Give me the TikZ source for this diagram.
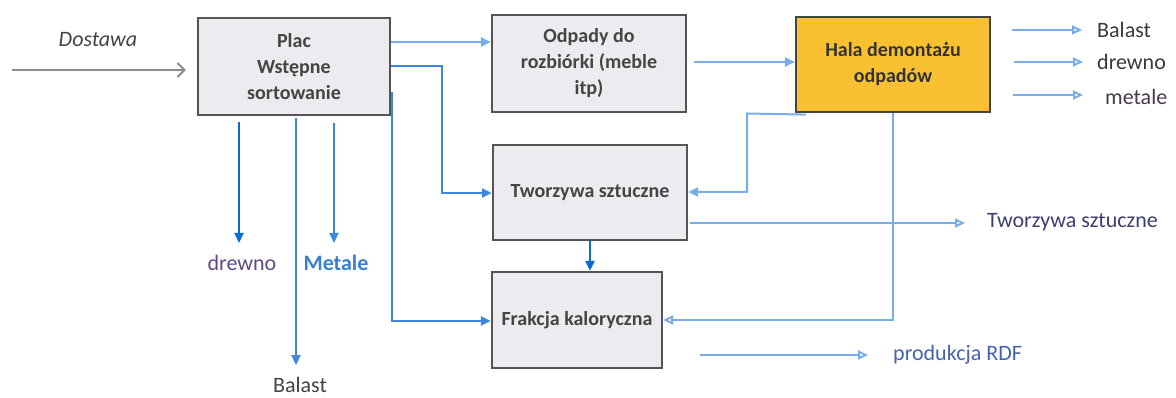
\documentclass[tikz,border=0pt]{standalone}
\usepackage{fontspec}
\setmainfont{Carlito}
\usetikzlibrary{arrows.meta,calc}
\definecolor{boxfill}{HTML}{ECECF0}
\definecolor{boxdraw}{HTML}{555555}
\definecolor{halafill}{HTML}{F9C132}
\definecolor{boxtext}{HTML}{444444}
\definecolor{lblue}{HTML}{77AEEA}
\definecolor{mblue}{HTML}{3D88DC}
\definecolor{dblue}{HTML}{0B6BD3}
\definecolor{dgray}{HTML}{8C8C8C}
\definecolor{lbldark}{HTML}{3A3A3A}
\definecolor{lblpurple}{HTML}{5E4A82}
\definecolor{lblmetal}{HTML}{3A7FD0}
\definecolor{lblslate}{HTML}{3E3E70}
\definecolor{lblrdf}{HTML}{4563B5}
\definecolor{lblmet}{HTML}{4A3A48}
\tikzset{
  procbox/.style={draw=boxdraw, line width=2.2pt, fill=boxfill, align=center,
    text=boxtext, font=\fontsize{20}{26}\selectfont\bfseries, inner sep=0pt},
  lbl/.style={font=\fontsize{22}{26}\selectfont, inner sep=0pt},
  lbconn/.style={draw=lblue, line width=2pt},
  mbconn/.style={draw=mblue, line width=2pt},
  dbconn/.style={draw=dblue, line width=2.2pt},
  filltip/.style={-{Triangle[length=10pt,width=9pt]}},
  opentip/.style={-{Triangle[open,length=10pt,width=9pt,fill=white]}},
}
\begin{document}
\begin{tikzpicture}[x=1pt,y=-1pt]
\useasboundingbox[fill=white] (0,0) rectangle (1176,398);

% boxes
\node[procbox, minimum width=192pt, minimum height=97pt] (plac) at (294,66.5) {Plac\\Wstępne\\sortowanie};
\node[procbox, minimum width=194pt, minimum height=97pt] (odp) at (589,63.5) {Odpady do\\rozbiórki (meble\\itp)};
\node[procbox, fill=halafill, draw=boxdraw!80!black, text=black!80, minimum width=194pt, minimum height=95pt] (hala) at (893,64.5) {Hala demontażu\\odpadów};
\node[procbox, minimum width=194pt, minimum height=95pt] (tw) at (590,192.5) {Tworzywa sztuczne};
\node[procbox, minimum width=170pt, minimum height=96pt] (fr) at (577,320) {Frakcja kaloryczna};

% labels
\node[lbl, text=boxtext, font=\fontsize{22}{26}\selectfont\itshape] (dost) at (98,40) {Dostawa};
\node[lbl, text=lblpurple] (ldrewno) at (242,263) {drewno};
\node[lbl, text=lblmetal, font=\fontsize{22}{26}\selectfont\bfseries] (lmetale) at (336,263) {Metale};
\node[lbl, text=boxtext] (lbalast) at (300,385) {Balast};
\node[lbl, text=lbldark, anchor=west] (rbalast) at (1097,30) {Balast};
\node[lbl, text=lbldark, anchor=west] (rdrewno) at (1097,62) {drewno};
\node[lbl, text=lblmet, anchor=west] (rmetale) at (1105,97) {metale};
\node[lbl, text=lblslate, anchor=west] (ltw) at (987,222) {Tworzywa sztuczne};
\node[lbl, text=lblrdf, anchor=west] (lrdf) at (893,355) {produkcja RDF};

% free ends
\coordinate (dS) at (12,70);
\coordinate (hb1) at (1012,30);
\coordinate (hb2) at (1014,62);
\coordinate (hb3) at (1013,95);
\coordinate (twS) at (690,223);
\coordinate (rdfS) at (700,355);

% Dostawa
\draw[draw=dgray, line width=2pt, -{Straight Barb[length=7pt,width=14pt]}] (dS) -- ([xshift=-11pt]plac.west |- dS);

% from Plac
\draw[lbconn, filltip] (plac.east |- 0,42) -- (odp.west |- 0,42);
\draw[mbconn, filltip] (plac.east |- 0,66) -- (442,66) |- (tw.west |- 0,193);
\draw[mbconn, filltip] (plac.east |- 0,93) -- (392,93) |- (fr.west |- 0,321);
\draw[dbconn, filltip] (plac.south -| ldrewno.north) ++(-3,6) coordinate (dA) -- (dA |- 0,243);
\draw[mbconn, filltip] (plac.south -| 296,0) ++(0,2) coordinate (bA) -- (bA |- 0,365);
\draw[mbconn, filltip] (plac.south -| 334,0) ++(0,7) coordinate (mA) -- (mA |- 0,243);

% Odpady -> Hala
\draw[lbconn, filltip] ([xshift=7pt]odp.east |- 0,62) -- (hala.west |- 0,62);

% Hala -> Tworzywa
\draw[lbconn, filltip] ([xshift=11pt,yshift=-1.5pt]hala.south west) -- (747,113.5) |- (tw.east |- 0,192);
% Hala -> Frakcja
\draw[lbconn, opentip] (hala.south) |- (fr.east |- 0,320);

% Tworzywa -> Frakcja
\draw[dbconn, filltip] (tw.south) -- (fr.north -| tw.south);

% outputs
\draw[lbconn, opentip] (hb1) -- ([xshift=-15pt]rbalast.west |- hb1);
\draw[lbconn, opentip] (hb2) -- ([xshift=-14pt]rdrewno.west |- hb2);
\draw[lbconn, opentip] (hb3) -- ([xshift=-22pt]rmetale.west |- hb3);
\draw[lbconn, opentip] (twS) -- ([xshift=-22pt]ltw.west |- twS);
\draw[lbconn, opentip] (rdfS) -- ([xshift=-25pt]lrdf.west |- rdfS);
\end{tikzpicture}
\end{document}
